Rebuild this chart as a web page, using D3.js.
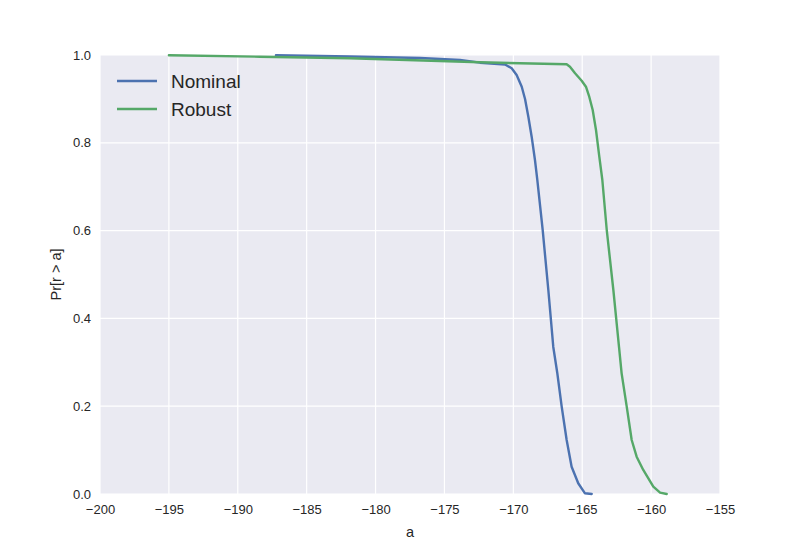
<!DOCTYPE html>
<html><head><meta charset="utf-8">
<script src="https://cdn.jsdelivr.net/npm/d3@7"></script>
<style>body{margin:0;background:#fff}svg{display:block;font-family:"Liberation Sans",Arial,sans-serif}</style>
</head><body><svg id="c" width="800" height="550"></svg>
<script>
const seriesNames = ["Nominal", "Robust"];
const seriesColors = ["#4C72B0", "#55A868"];
const nominalA = [-187.23,-181.86,-176.77,-173.87,-172.42,-170.60,-170.12,-169.76,-169.39,-169.15,-168.91,-168.67,-168.43,-168.26,-167.87,-167.46,-167.10,-166.81,-166.49,-166.13,-165.77,-165.29,-164.80,-164.31];
const nominalP = [0.9993,0.9966,0.9932,0.9886,0.9825,0.9784,0.9697,0.9544,0.9278,0.8998,0.8595,0.8139,0.7608,0.7153,0.6014,0.4647,0.3349,0.2756,0.1989,0.1230,0.0622,0.0244,0.0016,0.0];
const robustA = [-195.0,-188.39,-181.86,-172.42,-169.52,-166.13,-165.89,-165.52,-165.04,-164.73,-164.49,-164.24,-164.0,-163.76,-163.54,-163.22,-162.74,-162.33,-162.14,-161.77,-161.41,-161.05,-160.57,-160.20,-159.84,-159.35,-158.87];
const robustP = [0.9995,0.9961,0.9925,0.9834,0.9811,0.9788,0.9733,0.9583,0.9415,0.9278,0.9050,0.8747,0.8292,0.7683,0.7153,0.6014,0.4647,0.3349,0.2749,0.1989,0.1230,0.0850,0.0547,0.0358,0.0166,0.0030,0.0];
const xTicks = [-200,-195,-190,-185,-180,-175,-170,-165,-160,-155];
const yTicks = [0.0,0.2,0.4,0.6,0.8,1.0];

const svg = d3.select("#c");
const L=100,R=720,T=55,B=494;
const x = d3.scaleLinear().domain([-200,-155]).range([L,R]);
const y = d3.scaleLinear().domain([0,1]).range([B,T]);

svg.append("rect").attr("x",L).attr("y",T).attr("width",R-L).attr("height",B-T).attr("fill","#EAEAF2");
const g = svg.append("g");
g.selectAll(".gx").data(xTicks).join("line").attr("x1",d=>x(d)).attr("x2",d=>x(d)).attr("y1",T).attr("y2",B).attr("stroke","#fff").attr("stroke-width",1.2);
g.selectAll(".gy").data(yTicks).join("line").attr("x1",L).attr("x2",R).attr("y1",d=>y(d)).attr("y2",d=>y(d)).attr("stroke","#fff").attr("stroke-width",1.2);

const fmtX = d => (d<0?"\u2212":"")+Math.abs(d);
svg.append("g").attr("transform",`translate(0,${B})`).call(d3.axisBottom(x).tickValues(xTicks).tickFormat(fmtX).tickSize(0).tickPadding(11))
  .call(a=>{a.select(".domain").remove();a.selectAll("text").attr("font-size",13).attr("fill","#262626").attr("font-family","Liberation Sans, Arial, sans-serif");});
svg.append("g").attr("transform",`translate(${L},0)`).call(d3.axisLeft(y).tickValues(yTicks).tickFormat(d3.format(".1f")).tickSize(0).tickPadding(9))
  .call(a=>{a.select(".domain").remove();a.selectAll("text").attr("font-size",13).attr("fill","#262626").attr("font-family","Liberation Sans, Arial, sans-serif");});

svg.append("text").attr("x",(L+R)/2).attr("y",537).attr("text-anchor","middle").attr("font-size",14.5).attr("fill","#262626").text("a");
svg.append("text").attr("transform",`translate(61,${(T+B)/2}) rotate(-90)`).attr("text-anchor","middle").attr("font-size",14.5).attr("fill","#262626").text("Pr[r > a]");

const data = [d3.zip(nominalA,nominalP), d3.zip(robustA,robustP)];
const line = d3.line().x(d=>x(d[0])).y(d=>y(d[1]));
data.forEach((d,i)=>{
  svg.append("path").attr("d",line(d)).attr("fill","none").attr("stroke",seriesColors[i]).attr("stroke-width",2.4).attr("stroke-linejoin","round").attr("stroke-linecap","round");
});

const leg = svg.append("g");
seriesNames.forEach((n,i)=>{
  const yy = 81 + i*28;
  leg.append("line").attr("x1",117).attr("x2",157).attr("y1",yy).attr("y2",yy).attr("stroke",seriesColors[i]).attr("stroke-width",2.4);
  leg.append("text").attr("x",171).attr("y",yy+7).attr("font-size",19).attr("fill","#262626").text(n);
});
</script></body></html>
